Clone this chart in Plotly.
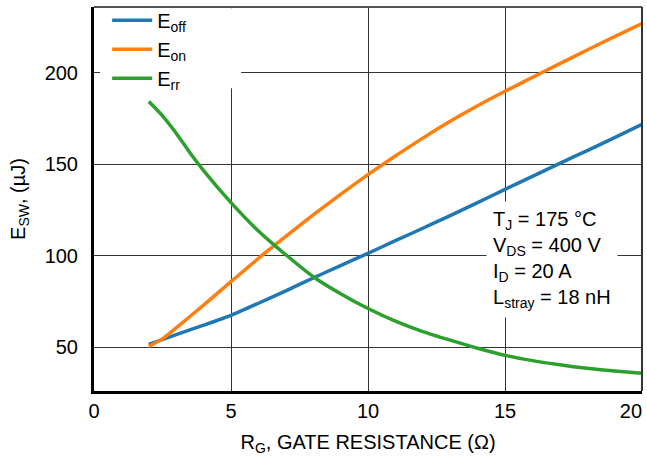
import plotly.graph_objects as go

# ---- data ----
rg_off = [2, 3, 4, 5, 6, 7, 8, 9, 10, 11, 12, 13, 14, 15, 16, 17, 18, 19, 20]
e_off = [51.5, 56.8, 62.0, 67.4, 74.0, 80.8, 87.8, 94.6, 101.3, 108.2, 115.0, 121.9, 129.0, 136.3, 143.4, 150.5, 157.5, 164.6, 171.8]

rg_on = [2, 2.5, 3, 4, 5, 6, 7, 8, 9, 10, 11, 12, 13, 14, 15, 16, 17, 18, 19, 20]
e_on = [50.4, 54.5, 60.5, 73.0, 85.8, 98.5, 110.5, 122.3, 133.5, 144.3, 154.5, 164.3, 173.5, 182.0, 189.9, 197.5, 205.0, 212.5, 219.8, 227.0]

rg_rr = [2, 2.5, 3, 3.5, 4, 5, 6, 7, 8, 9, 10, 11, 12, 13, 14, 15, 16, 17, 18, 19, 20]
e_rr = [184.3, 176.5, 167.0, 156.3, 146.5, 129.0, 113.5, 100.5, 88.5, 79.2, 71.1, 64.2, 58.5, 53.8, 49.4, 45.5, 42.6, 40.3, 38.4, 36.9, 35.7]

x_ticks = [0, 5, 10, 15, 20]
x_tick_labels = ["0", "5", "10", "15", "20\u00a0\u00a0\u00a0\u00a0"]
y_ticks = [50, 100, 150, 200]

names = ["E<sub>off</sub>", "E<sub>on</sub>", "E<sub>rr</sub>"]
colors = ["#1f77b4", "#ff7f0e", "#2ca02c"]

cond_text = ("T<sub>J</sub> = 175 °C<br>V<sub>DS</sub> = 400 V<br>"
             "I<sub>D</sub> = 20 A<br>L<sub>stray</sub> = 18 nH")

FONT = "Liberation Sans, Arial, Helvetica, sans-serif"

fig = go.Figure()
for xs, ys, nm, c in [(rg_off, e_off, names[0], colors[0]),
                      (rg_on, e_on, names[1], colors[1]),
                      (rg_rr, e_rr, names[2], colors[2])]:
    fig.add_trace(go.Scatter(x=xs, y=ys, mode="lines", name=nm,
                             line=dict(color=c, width=3.5, shape="spline", smoothing=0.6)))

fig.update_layout(
    width=647, height=457,
    margin=dict(l=94, r=5, t=7, b=66, autoexpand=False),
    paper_bgcolor="white", plot_bgcolor="white",
    font=dict(family=FONT, size=20, color="black"),
    showlegend=True,
    legend=dict(x=0.024, y=1.016, xanchor="left", yanchor="top",
                bgcolor="rgba(0,0,0,0)", borderwidth=0, tracegroupgap=0,
                itemwidth=40, font=dict(size=20)),
    xaxis=dict(range=[0, 20], tickvals=x_ticks, ticktext=x_tick_labels,
               showgrid=True, automargin=False, ticklabeloverflow="allow",
               gridcolor="#333", gridwidth=1.2, zeroline=False,
               showline=True, linecolor="black", linewidth=3,
               ticks="", ticklabelstandoff=0,
               title=dict(text="R<sub>G</sub>, GATE RESISTANCE (Ω)", standoff=14,
                          font=dict(size=20))),
    yaxis=dict(range=[26, 236], tickvals=y_ticks, showgrid=True, automargin=False,
               gridcolor="#333", gridwidth=1.2, zeroline=False,
               showline=True, linecolor="black", linewidth=3,
               ticks="", ticklabelstandoff=9,
               title=dict(text="E<sub>SW</sub>, (µJ)", standoff=14,
                          font=dict(size=20))),
    shapes=[
        dict(type="rect", xref="x", yref="y", x0=0.22, x1=5.37, y0=191.5, y1=235.3,
             fillcolor="white", line=dict(width=0), layer="above"),
        dict(type="line", xref="paper", yref="paper", x0=0, x1=1, y0=1, y1=1,
             line=dict(color="#555", width=2), layer="above"),
        dict(type="line", xref="paper", yref="paper", x0=1, x1=1, y0=0, y1=1,
             line=dict(color="#333", width=2), layer="above"),
    ],
    annotations=[
        dict(x=14.3, y=129.8, xref="x", yref="y", xanchor="left", yanchor="top",
             text=cond_text, showarrow=False, align="left", bgcolor="white",
             borderpad=6, font=dict(size=20)),
    ],
)

fig.write_html(
    "out.html",
    config={"displayModeBar": False},
    post_script="document.body.style.margin='0';document.body.style.padding='0';"
                "document.documentElement.style.overflow='hidden';",
)
